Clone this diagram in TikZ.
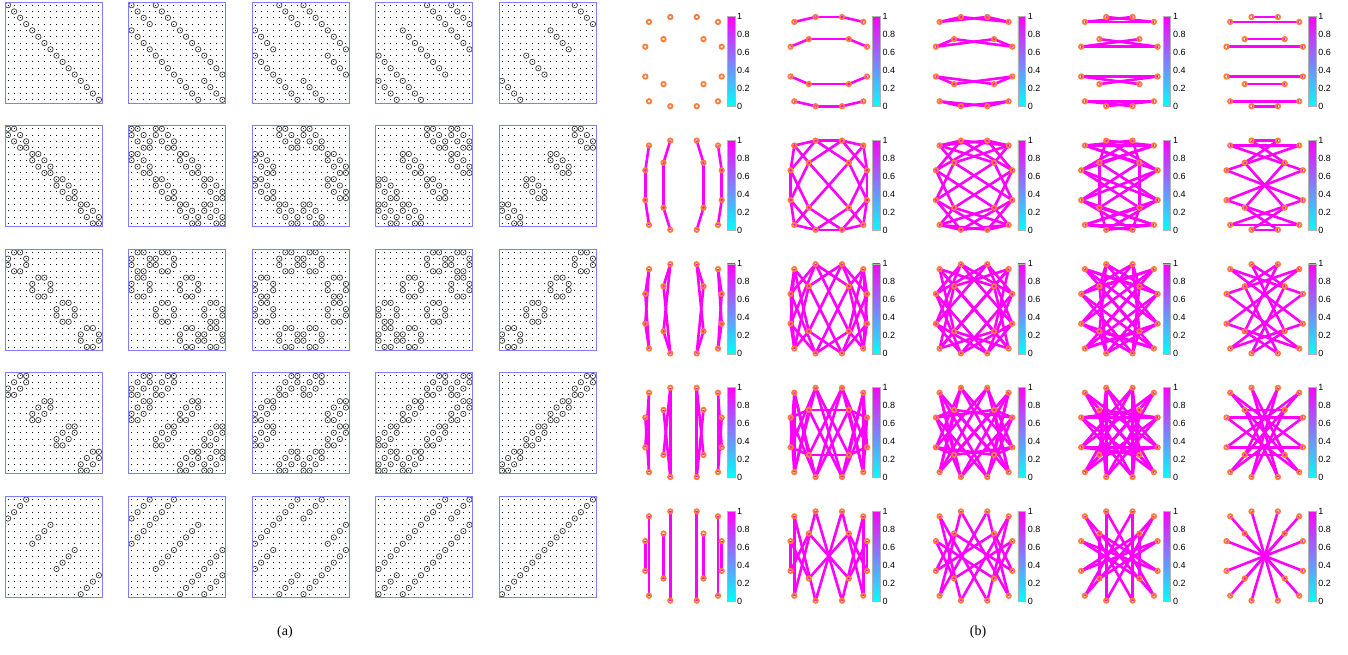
\documentclass[tikz,border=0pt]{standalone}
\usepackage{fontspec}
\setmainfont{Liberation Serif}
\newfontfamily\ticksans{Liberation Sans}

\definecolor{boxblue}{RGB}{125,125,255}
\definecolor{nodeorange}{RGB}{255,125,60}
\definecolor{entrygray}{RGB}{60,60,60}
\definecolor{edgemag}{RGB}{255,0,255}
\definecolor{barcyan}{RGB}{0,255,255}

% nonzero entries (row/col) of the five 4x4 factors
\def\nzI{1/1,2/2,3/3,4/4}
\def\nzII{1/1,1/2,2/1,2/3,3/2,3/4,4/3,4/4}
\def\nzIII{1/2,1/3,2/1,2/4,3/1,3/4,4/2,4/3}
\def\nzIV{1/3,1/4,2/2,2/4,3/1,3/3,4/1,4/2}
\def\nzV{1/4,2/3,3/2,4/1}

% vertex offsets in a graph panel, index 4(b-1)+(p-1)
\def\offx{{-34.5,-38.2,-38.2,-34.5,-13.2,-20,-20,-13.2,13.2,20,20,13.2,34.5,38.2,38.2,34.5}}
\def\offy{{-39.7,-14.9,14.9,39.7,-44.6,-22.5,22.5,44.6,-44.6,-22.5,22.5,44.6,-39.7,-14.9,14.9,39.7}}

\begin{document}
\begin{tikzpicture}[x=1pt, y=-1pt,
  matbox/.style={draw=boxblue, line width=0.8pt},
  dotrow/.style={line width=1pt, dash pattern=on 1pt off 5.06pt},
  entry/.style={draw=entrygray, line width=0.7pt},
  edge/.style={edgemag, line width=2.6pt},
  vertex/.style={draw=nodeorange, line width=1.8pt},
  cbar/.style={draw=gray!60, line width=0.5pt},
  ticklab/.style={font=\ticksans\fontsize{9}{9}\selectfont, inner sep=0pt, anchor=west},
  caption/.style={font=\fontsize{14}{14}\selectfont}]

  \fill[white] (0,0) rectangle (1348,654);
  \useasboundingbox (0,0) rectangle (1348,654);

  \foreach \ri/\rn in {1/I,2/II,3/III,4/IV,5/V}{
    \foreach \ci/\cn in {1/I,2/II,3/III,4/IV,5/V}{
      \pgfmathsetmacro\ax{5+123.5*(\ci-1)}
      \pgfmathsetmacro\ay{2+123.6*(\ri-1)}
      \pgfmathsetmacro\gx{683.5+145.3*(\ci-1)}
      \pgfmathsetmacro\gy{61.6+123.6*(\ri-1)}
      \edef\nzcol{\csname nz\cn\endcsname}
      \edef\nzrow{\csname nz\rn\endcsname}

      % (a) sparsity pattern
      \foreach \i in {0,...,15}{
        \pgfmathsetmacro\dy{\ay+3.16+6.31*\i}
        \draw[dotrow] (\ax+2.53,\dy) -- (\ax+97,\dy);
      }
      \foreach \b/\bb in \nzcol{
        \foreach \p/\pp in \nzrow{
          \pgfmathsetmacro\ex{\ax+3.03+6.06*(4*\bb+\pp-5)}
          \pgfmathsetmacro\ey{\ay+3.16+6.31*(4*\b+\p-5)}
          \draw[entry] (\ex,\ey) circle (2.7pt);
        }
      }
      \draw[matbox] (\ax,\ay) rectangle (\ax+97,\ay+101);

      % (b) graph
      \foreach \b in {1,...,4}{
        \foreach \p in {1,...,4}{
          \pgfmathsetmacro\vx{\gx+\offx[4*\b+\p-5]}
          \pgfmathsetmacro\vy{\gy+\offy[4*\b+\p-5]}
          \coordinate (g\ri\ci-\b\p) at (\vx,\vy);
        }
      }
      \foreach \b/\bb in \nzcol{
        \foreach \p/\pp in \nzrow{
          \pgfmathtruncatemacro\na{4*\b+\p}
          \pgfmathtruncatemacro\nb{4*\bb+\pp}
          \ifnum\na<\nb \draw[edge] (g\ri\ci-\b\p) -- (g\ri\ci-\bb\pp); \fi
        }
      }
      \foreach \b in {1,...,4}
        \foreach \p in {1,...,4}
          \draw[vertex] (g\ri\ci-\b\p) circle (2.2pt);

      % colour bar
      \shade[bottom color=barcyan, top color=edgemag] (\gx+43.8,\gy-45) rectangle (\gx+51.3,\gy+45);
      \draw[cbar] (\gx+43.8,\gy-45) rectangle (\gx+51.3,\gy+45);
      \foreach \k/\t in {0/0,1/0.2,2/0.4,3/0.6,4/0.8,5/1}
        \node[ticklab] (t\ri\ci-\k) at (\gx+53.5,\gy+45-18*\k) {\t};
    }
  }

  \node[caption] (capa) at (285,632) {(a)};
  \node[caption] (capb) at (978,632) {(b)};
\end{tikzpicture}
\end{document}
